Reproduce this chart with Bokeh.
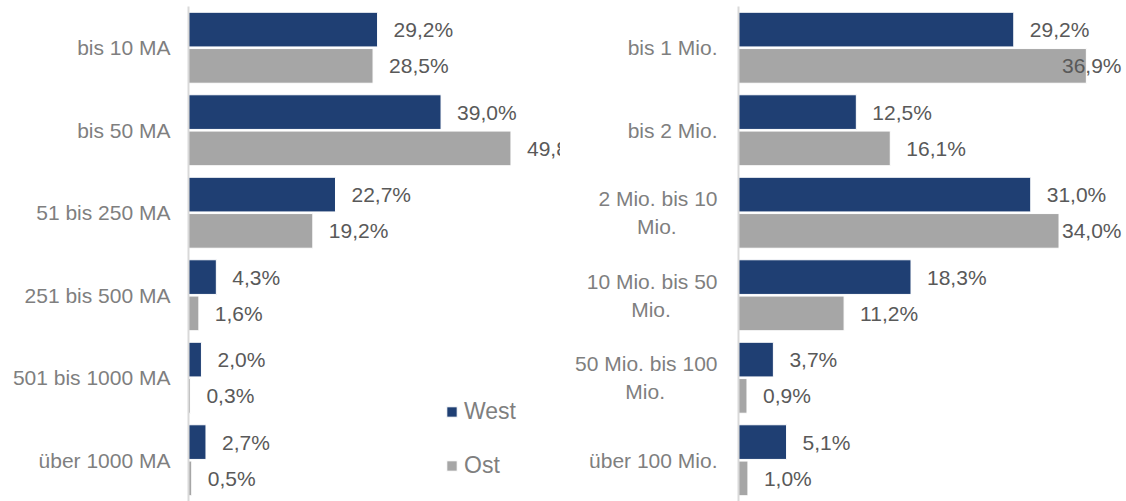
from bokeh.plotting import figure
from bokeh.models import FactorRange, Range1d, ColumnDataSource, Legend, LegendItem
from bokeh.transform import dodge
from bokeh.layouts import row
from bokeh.embed import file_html
from bokeh.resources import INLINE
from bokeh.core.properties import value

# ---- data ----
emp_cats = ["bis 10 MA", "bis 50 MA", "51 bis 250 MA", "251 bis 500 MA",
            "501 bis 1000 MA", "über 1000 MA"]
emp_west = [29.2, 39.0, 22.7, 4.3, 2.0, 2.7]
emp_ost = [28.5, 49.8, 19.2, 1.6, 0.3, 0.5]

rev_cats = ["bis 1 Mio.", "bis 2 Mio.", "2 Mio. bis 10\nMio.", "10 Mio. bis 50\nMio.",
            "50 Mio. bis 100\nMio.", "über 100 Mio."]
rev_west = [29.2, 12.5, 31.0, 18.3, 3.7, 5.1]
rev_ost = [36.9, 16.1, 34.0, 11.2, 0.9, 1.0]

series_names = ["West", "Ost"]

WEST = "#1F3F73"
OST = "#A6A6A6"
FONT = value("Liberation Sans")
VAL_COLOR = "#595959"
CAT_COLOR = "#7F7F7F"
H = 501
FS = 21

# approximate Arial advance widths (per 1000 em) used to centre wrapped labels
ARIAL_W = {" ": 278, ".": 278, "M": 833, "A": 667, "i": 222, "o": 556, "b": 556,
           "s": 500, "ü": 556, "e": 556, "r": 333}
NBSP = "\u00a0"


def text_w(s):
    return sum(ARIAL_W.get(ch, 556) for ch in s) * FS / 1000.0


def centre_lines(label):
    lines = label.split("\n")
    if len(lines) == 1:
        return label
    wmax = max(text_w(l) for l in lines)
    out = []
    for l in lines:
        n = int(round((wmax - text_w(l)) / 2 / (278 * FS / 1000.0)))
        out.append(l + NBSP * n)
    return "\n".join(out)


def fmt(v):
    return f"{v:.1f}".replace(".", ",") + "%"


def make_panel(cats, west, ost, width, border_left, xmax, standoff, push=False):
    cats = [centre_lines(c) for c in cats]
    p = figure(width=width, height=H, y_range=FactorRange(factors=cats[::-1]),
               x_range=Range1d(0, xmax), output_backend="svg", toolbar_location=None,
               min_border_left=border_left, min_border_right=0,
               min_border_top=6, min_border_bottom=0)
    p.xaxis.visible = False
    p.xgrid.visible = False
    p.ygrid.visible = False
    p.outline_line_color = None
    p.background_fill_color = "white"

    src = ColumnDataSource(dict(cat=cats, west=west, ost=ost))
    rw = p.hbar(y=dodge("cat", 0.22, range=p.y_range), left=0, right="west", height=0.42,
                source=src, fill_color=WEST, line_color="white", line_width=1)
    ro = p.hbar(y=dodge("cat", -0.22, range=p.y_range), left=0, right="ost", height=0.42,
                source=src, fill_color=OST, line_color="white", line_width=1)

    frame_w = width - border_left
    ppu = frame_w / xmax
    label_w = 62
    normal = dict(cat=[], x=[], off=[], t=[])
    pushed = dict(cat=[], x=[], off=[], t=[])
    for c, w, o in zip(cats, west, ost):
        for v, off in ((w, 0.22), (o, -0.22)):
            d = normal
            if push and v * ppu + 16 + label_w > frame_w:
                d = pushed
            d["cat"].append(c)
            d["x"].append(v)
            d["off"].append(off)
            d["t"].append(fmt(v))

    for d, align, xo in ((normal, "left", 16), (pushed, "right", -2)):
        if not d["cat"]:
            continue
        for off in (0.22, -0.22):
            idx = [i for i, oo in enumerate(d["off"]) if oo == off]
            if not idx:
                continue
            s = ColumnDataSource(dict(
                cat=[d["cat"][i] for i in idx],
                x=[d["x"][i] if align == "left" else xmax for i in idx],
                t=[d["t"][i] for i in idx]))
            p.text(x="x", y=dodge("cat", off, range=p.y_range), text="t", source=s,
                   x_offset=xo, text_align=align, text_baseline="middle",
                   text_font=FONT, text_font_size=f"{FS}px", text_color=VAL_COLOR)

    ax = p.yaxis[0]
    ax.axis_line_color = "#D9D9D9"
    ax.axis_line_width = 2
    ax.major_tick_line_color = None
    ax.minor_tick_line_color = None
    ax.major_tick_out = 0
    ax.major_tick_in = 0
    ax.major_label_standoff = standoff
    ax.major_label_text_font = "Liberation Sans"
    ax.major_label_text_font_size = f"{FS}px"
    ax.major_label_text_color = CAT_COLOR
    return p, rw, ro


p1, rw1, ro1 = make_panel(emp_cats, emp_west, emp_ost, 560, 188, 57.45, 18)
p2, _, _ = make_panel(rev_cats, rev_west, rev_ost, 563, 178, 40.84, 21, push=True)

legend = Legend(items=[LegendItem(label=series_names[0], renderers=[rw1]),
                       LegendItem(label=series_names[1], renderers=[ro1])],
                location=(257, 22), orientation="vertical", padding=0, margin=0,
                border_line_color=None, background_fill_alpha=0,
                glyph_width=13, glyph_height=13, label_height=13, spacing=27,
                label_standoff=6, label_text_font="Liberation Sans",
                label_text_font_size="23px", label_text_color=CAT_COLOR,
                label_text_baseline="middle")
p1.add_layout(legend)

layout = row(p1, p2)
open("out.html", "w").write(file_html(layout, INLINE))
